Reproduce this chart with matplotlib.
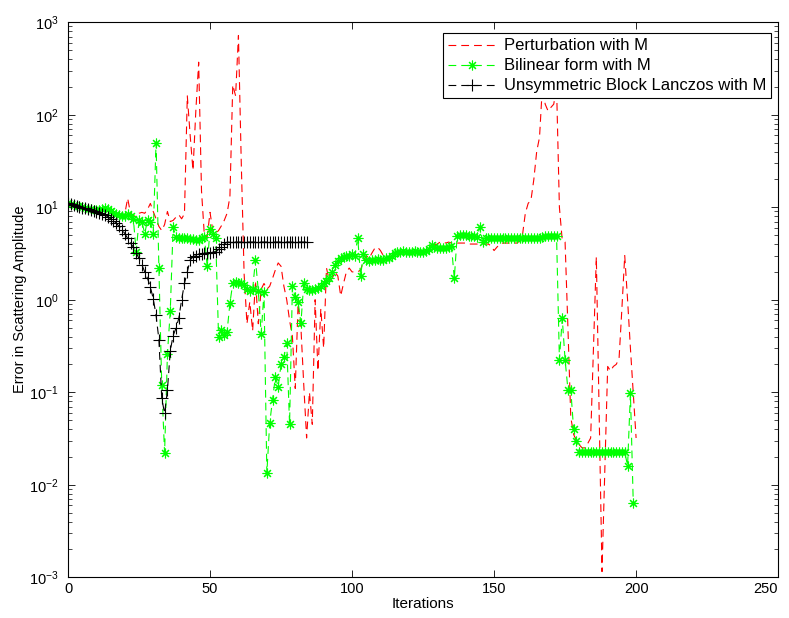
import matplotlib
matplotlib.use("Agg")
import matplotlib.pyplot as plt
import numpy as np
from matplotlib.ticker import LogLocator, LogFormatterMathtext, NullFormatter

plt.rcParams['font.family'] = ['Liberation Sans', 'DejaVu Sans']
plt.rcParams['mathtext.fontset'] = 'custom'
plt.rcParams['mathtext.rm'] = 'Liberation Sans'
plt.rcParams['mathtext.it'] = 'Liberation Sans:italic'

# Perturbation with M, iterations 0..200
perturbation = [
    11.2, 10.9, 10.7, 10.4, 10.2, 10.0, 9.8, 9.6, 9.5, 9.4,
    9.3, 9.3, 9.4, 9.5, 9.4, 9.0, 8.7, 8.5, 8.3, 8.2,
    8.5, 12.5, 8.6, 8.2, 7.8, 8.6, 8.8, 8.6, 9.5, 11.0,
    9.0, 7.5, 6.2, 5.6, 6.5, 9.0, 7.0, 7.2, 7.8, 8.3,
    7.5, 8.5, 160, 60, 25, 110, 370, 15, 5.0, 4.8,
    8.8, 5.5, 5.2, 5.6, 6.3, 7.2, 8.6, 13, 210, 160,
    720, 30, 1.9, 0.55, 0.95, 0.46, 1.6, 0.55, 1.3, 1.5,
    1.3, 1.4, 1.7, 2.1, 2.5, 2.3, 1.4, 1.0, 0.6, 0.4,
    0.11, 0.9, 0.5, 0.12, 0.032, 0.1, 0.045, 1.0, 0.17, 0.8,
    0.3, 2.2, 1.6, 1.7, 2.0, 1.8, 1.1, 1.5, 2.0, 2.2,
    2.0, 2.0, 2.0, 2.1, 2.6, 3.0, 2.8, 3.2, 3.6, 3.7,
    3.4, 3.0, 2.8, 2.9, 3.0, 3.1, 3.0, 3.1, 3.3, 3.3,
    3.3, 3.3, 3.3, 3.3, 3.3, 3.3, 3.4, 3.6, 3.8, 3.9,
    4.0, 4.2, 4.2, 4.1, 4.2, 4.1, 4.1, 4.1, 4.1, 4.1,
    4.1, 4.0, 4.0, 4.0, 4.0, 4.0, 4.0, 4.0, 4.0, 3.8,
    3.4, 3.7, 4.0, 4.1, 4.1, 4.1, 4.1, 4.1, 4.1, 4.3,
    5.0, 8.6, 11, 12, 20, 40, 57, 200, 130, 110,
    120, 130, 200, 10, 4.4, 4.2, 0.5, 0.054, 0.035, 0.03,
    0.027, 0.025, 0.025, 0.028, 0.032, 0.3, 2.9, 0.06, 0.00115, 0.015,
    0.19, 0.17, 0.19, 0.2, 0.23, 0.8, 3.0, 1.0, 0.3, 0.1,
    0.032,
]

# Bilinear form with M, iterations 0..199
bilinear = [
    11.2, 10.9, 10.7, 10.4, 10.2, 10.0, 9.8, 9.6, 9.5, 9.4,
    9.3, 9.4, 9.6, 9.8, 9.6, 9.0, 8.6, 8.4, 8.2, 8.0,
    8.1, 8.4, 8.0, 7.5, 3.3, 7.2, 7.0, 5.2, 7.2, 7.0,
    5.2, 50, 2.2, 0.12, 0.022, 0.26, 0.75, 6.1, 4.8, 4.7,
    4.6, 4.6, 4.6, 4.5, 4.5, 4.4, 4.4, 4.6, 4.8, 2.3,
    5.8, 5.2, 4.6, 0.40, 0.47, 0.42, 0.45, 0.92, 1.5, 1.55,
    1.5, 1.5, 1.45, 1.3, 1.25, 1.3, 2.7, 1.25, 0.43, 1.2,
    0.0134, 0.046, 0.083, 0.146, 0.115, 0.2, 0.24, 0.34, 0.045, 1.4,
    1.07, 0.94, 0.56, 1.5, 1.3, 1.28, 1.28, 1.3, 1.35, 1.4,
    1.5, 1.6, 1.7, 2.0, 2.4, 2.6, 2.8, 2.9, 3.0, 3.0,
    3.1, 3.0, 4.7, 1.8, 3.1, 2.7, 2.65, 2.7, 2.7, 2.75,
    2.7, 2.7, 2.8, 2.8, 3.0, 3.2, 3.3, 3.3, 3.35, 3.3,
    3.3, 3.3, 3.35, 3.3, 3.3, 3.3, 3.4, 3.5, 3.9, 3.7,
    3.6, 3.6, 3.6, 3.6, 3.7, 3.8, 1.7, 4.9, 5.0, 5.0,
    5.0, 4.9, 4.9, 4.9, 4.8, 6.1, 4.2, 4.6, 4.6, 4.6,
    4.6, 4.6, 4.6, 4.6, 4.6, 4.6, 4.6, 4.6, 4.6, 4.6,
    4.6, 4.6, 4.6, 4.6, 4.6, 4.7, 4.7, 4.8, 4.9, 4.9,
    4.9, 4.9, 4.9, 0.225, 0.63, 0.225, 0.107, 0.107, 0.040, 0.030,
    0.0226, 0.0226, 0.0226, 0.0226, 0.0226, 0.0226, 0.0226, 0.0226, 0.0226, 0.0226,
    0.0226, 0.0226, 0.0226, 0.0226, 0.0226, 0.0226, 0.0226, 0.016, 0.097, 0.0064,
]

# Unsymmetric Block Lanczos with M, iterations 0..84
lanczos = [
    11.2, 10.9, 10.6, 10.3, 10.1, 9.9, 9.7, 9.5, 9.3, 9.1,
    8.9, 8.7, 8.5, 8.2, 7.9, 7.5, 7.1, 6.7, 6.2, 5.7,
    5.2, 4.6, 4.1, 3.7, 3.2, 2.8, 2.4, 2.0, 1.7, 1.37,
    1.03, 0.68, 0.37, 0.086, 0.059, 0.105, 0.28, 0.41, 0.49, 0.63,
    1.0, 1.5, 2.0, 2.7, 2.9, 3.0, 3.1, 3.1, 3.2, 3.2,
    3.2, 3.3, 3.3, 3.5, 3.7, 4.0, 4.2, 4.2, 4.2, 4.2,
    4.2, 4.2, 4.2, 4.2, 4.2, 4.2, 4.2, 4.2, 4.2, 4.2,
    4.2, 4.2, 4.2, 4.2, 4.2, 4.2, 4.2, 4.2, 4.2, 4.2,
    4.2, 4.2, 4.2, 4.2, 4.2,
]

series_labels = ["Perturbation with M", "Bilinear form with M",
                 "Unsymmetric Block Lanczos with M"]
x_ticks = [0, 50, 100, 150, 200, 250]

fig = plt.figure(figsize=(7.89, 6.18), dpi=100)
ax = fig.add_axes([0.0862, 0.066, 0.900, 0.898])

dash = (7, 4.5)
lw = 0.8
asterisk = (8, 2, 0)

ax.plot(np.arange(len(perturbation)), perturbation, color=(1, 0, 0),
        lw=lw, dashes=dash, label=series_labels[0])
ax.plot(np.arange(len(bilinear)), bilinear, color=(0, 1, 0),
        lw=lw, dashes=dash, marker=asterisk, markersize=7, markeredgewidth=0.8,
        label=series_labels[1])
ax.plot(np.arange(len(lanczos)), lanczos, color='black',
        lw=lw, dashes=dash, marker='+', markersize=8, markeredgewidth=0.8,
        label=series_labels[2])

ax.set_yscale('log')
ax.set_xlim(0, 250)
ax.set_ylim(1e-3, 1e3)
ax.set_xticks(x_ticks)
ax.yaxis.set_major_locator(LogLocator(base=10, numticks=10))
ax.yaxis.set_minor_locator(LogLocator(base=10, subs=np.arange(2, 10), numticks=20))
ax.yaxis.set_major_formatter(LogFormatterMathtext())
ax.yaxis.set_minor_formatter(NullFormatter())

ax.tick_params(which='both', direction='in', top=True, right=True, labelsize=10.5)
ax.tick_params(axis='y', which='major', pad=7)
ax.tick_params(which='major', length=5, width=0.6)
ax.tick_params(which='minor', length=3, width=0.5)
for sp in ax.spines.values():
    sp.set_linewidth(0.8)

# keep the last x tick label inside the figure
fig.canvas.draw()
ax.get_xticklabels()[-1].set_horizontalalignment('right')

ax.set_xlabel("Iterations", fontsize=11, labelpad=1)
ax.set_ylabel("Error in Scattering Amplitude", fontsize=10.5, labelpad=1)

leg = ax.legend(loc='upper right', bbox_to_anchor=(0.990, 0.980), borderaxespad=0,
                fontsize=12, handlelength=2.9, handletextpad=0.42, numpoints=1,
                fancybox=False, framealpha=1, edgecolor='black',
                borderpad=0.3, labelspacing=0.3)
leg.get_frame().set_linewidth(0.8)

fig.savefig("out.png", dpi=100)
